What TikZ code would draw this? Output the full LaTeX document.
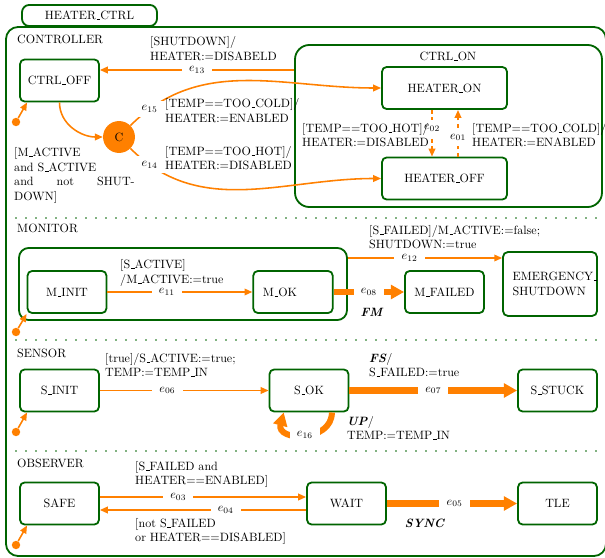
\documentclass[tikz,border=0pt]{standalone}
\usetikzlibrary{arrows.meta}
\definecolor{darkgreen}{RGB}{0,100,0}
\renewcommand{\_}{\leavevmode\kern.06em\vbox{\hrule width.3em height.5pt}}
\begin{document}
\begin{tikzpicture}[x=0.83pt, y=0.83pt,
    state/.style={draw=darkgreen, line width=1.5pt, rounded corners=4pt,
      minimum width=65.6pt, minimum height=35pt, inner sep=0pt},
    region/.style={draw=darkgreen, line width=1.5pt, rounded corners=10pt},
    divider/.style={darkgreen, line width=1.5pt, line cap=round, dash pattern=on 0pt off 8.3pt},
    trans/.style={orange, line width=1.3pt, -{Triangle[length=6.5pt,width=5.5pt]}},
    fault/.style={orange, line width=5pt, -{Triangle[length=11pt,width=11.5pt]}},
    elabel/.style={fill=white, text=black, inner xsep=6pt, inner ysep=4pt},
    guard/.style={anchor=west, align=left, inner sep=0pt},
    init/.style={circle, fill=orange, inner sep=0pt, minimum size=7pt}]

    \useasboundingbox (0,0) rectangle (605,-558);

    % Frame
    \draw[region] (6,-27) rectangle (606,-556);
    \node[state, rounded corners=6pt, minimum width=112pt, minimum height=17.5pt] (heater-ctrl) at (89.5,-15.5) {HEATER\_CTRL};
    \draw[divider] (6,-218) -- (605,-218);
    \draw[divider] (6,-340) -- (605,-340);
    \draw[divider] (6,-451) -- (605,-451);

    % Controller
    \node[guard] (controller) at (17,-39) {CONTROLLER};
    \node[state] (ctrl-off) at (59.5,-80.5) {CTRL\_OFF};
    \node[circle, fill=orange, minimum size=26.5pt, inner sep=0pt] (cond) at (119,-137) {C};
    \node[state, rounded corners=12pt, minimum width=254.8pt, minimum height=134.5pt] (ctrl-on) at (448.5,-126) {};
    \node (ctrl-on-name) at (448,-56) {CTRL\_ON};
    \node[state, minimum width=103.8pt] (heater-on) at (444.5,-88) {HEATER\_ON};
    \node[state, minimum width=103.8pt] (heater-off) at (444.5,-178.5) {HEATER\_OFF};
    \node[init] (ctrl-init) at (16,-122) {};

    \draw[trans] (ctrl-init) -- ([xshift=6.6pt]ctrl-off.south west);
    \draw[trans] (ctrl-on.west |- 0,-70) -- node[elabel] {$e_{13}$} (ctrl-off.east |- 0,-70);
    \draw[trans] (ctrl-off.south) to[out=-90, in=180] (cond.west);
    \draw[trans] (cond.45) to[out=45, in=180] node[elabel, pos=0.09] {$e_{15}$} (heater-on.west);
    \draw[trans] (cond.-45) to[out=-45, in=180] node[elabel, pos=0.09] {$e_{14}$} (heater-off.west);
    \draw[trans, dashed] (heater-on.south -| 432,0) -- node[elabel, pos=0.39] {$e_{02}$} (heater-off.north -| 432,0);
    \draw[trans, dashed] (heater-off.north -| 458,0) -- node[elabel, pos=0.41] {$e_{01}$} (heater-on.south -| 458,0);

    \node[guard] (g13) at (150,-48.5) {[SHUTDOWN]/\\HEATER:=DISABELD};
    \node[guard] (g15) at (165,-110.5) {[TEMP==TOO\_COLD]/\\HEATER:=ENABLED};
    \node[guard] (g14) at (165,-158) {[TEMP==TOO\_HOT]/\\HEATER:=DISABLED};
    \node[guard] (g02) at (302,-135) {[TEMP==TOO\_HOT]/\\HEATER:=DISABLED};
    \node[guard] (g01) at (472,-135) {[TEMP==TOO\_COLD]/\\HEATER:=ENABLED};
    \node[guard, text width=100pt] (g-on) at (14,-175.5) {[M\_ACTIVE\\and S\_ACTIVE\\and \hfill not \hfill SHUT-\\DOWN]};

    % Monitor
    \node[guard] (monitor) at (17,-228) {MONITOR};
    \node[state, rounded corners=8pt, minimum width=272.2pt, minimum height=59.8pt] (mon-box) at (183,-284) {};
    \node[state] (m-init) at (67,-292) {M\_INIT};
    \node[state, text width=50pt, align=left, inner xsep=8pt] (m-ok) at (293,-292) {M\_OK};
    \node[state] (m-failed) at (444.5,-292) {M\_FAILED};
    \node[state, minimum width=78pt, minimum height=53pt, text width=62pt, align=left, inner xsep=8pt] (emergency) at (550,-284) {EMERGENCY\_\\SHUTDOWN};
    \node[init] (mon-init) at (16,-332) {};

    \draw[trans] (mon-init) -- (m-init.south west);
    \draw[trans] (m-init) -- node[elabel, pos=0.41] {$e_{11}$} (m-ok);
    \draw[fault] (m-ok) -- node[elabel] {$e_{08}$} (m-failed);
    \draw[trans] (mon-box.east |- 0,-258) -- node[elabel, pos=0.4] {$e_{12}$} (emergency.west |- 0,-258);

    \node[guard] (g11) at (120,-273) {[S\_ACTIVE]\\/M\_ACTIVE:=true};
    \node[guard] (g12) at (369,-237) {[S\_FAILED]/M\_ACTIVE:=false;\\SHUTDOWN:=true};
    \node (fm) at (372,-312) {\textbf{\textit{FM}}};

    % Sensor
    \node[guard] (sensor) at (17,-353) {SENSOR};
    \node[state] (s-init) at (59.5,-390.5) {S\_INIT};
    \node[state] (s-ok) at (309,-390.5) {S\_OK};
    \node[state] (s-stuck) at (557.5,-390.5) {S\_STUCK};
    \node[init] (sen-init) at (16,-432) {};

    \draw[trans] (sen-init) -- ([xshift=6.6pt]s-init.south west);
    \draw[trans] (s-init) -- node[elabel, pos=0.4] {$e_{06}$} (s-ok);
    \draw[fault] (s-ok) -- node[elabel] {$e_{07}$} (s-stuck);
    \draw[fault] ([xshift=19pt]s-ok.south) to[out=-90, in=-105, looseness=1.6] node[elabel] {$e_{16}$} ([xshift=-21pt]s-ok.south);

    \node[guard] (g06) at (105,-365) {[true]/S\_ACTIVE:=true;\\TEMP:=TEMP\_IN};
    \node[guard] (g07) at (369,-365) {\textbf{\textit{FS}}/\\S\_FAILED:=true};
    \node[guard] (g16) at (347,-428) {\textbf{\textit{UP}}/\\TEMP:=TEMP\_IN};

    % Observer
    \node[guard] (observer) at (17,-463) {OBSERVER};
    \node[state] (safe) at (59.5,-503.5) {SAFE};
    \node[state] (wait) at (346.5,-503.5) {WAIT};
    \node[state] (tle) at (557.5,-503.5) {TLE};
    \node[init] (obs-init) at (16,-545) {};

    \draw[trans] (obs-init) -- ([xshift=6.6pt]safe.south west);
    \draw[trans] (safe.east |- 0,-497) -- node[elabel, pos=0.38] {$e_{03}$} (wait.west |- 0,-497);
    \draw[trans] (wait.west |- 0,-510) -- node[elabel, pos=0.39] {$e_{04}$} (safe.east |- 0,-510);
    \draw[fault] (wait) -- node[elabel, pos=0.52] {$e_{05}$} (tle);

    \node[guard] (g03) at (135,-474.5) {[S\_FAILED and\\HEATER==ENABLED]};
    \node[guard] (g04) at (135,-531.5) {[not S\_FAILED\\or HEATER==DISABLED]};
    \node (sync) at (425,-523) {\textbf{\textit{SYNC}}};

\end{tikzpicture}
\end{document}
